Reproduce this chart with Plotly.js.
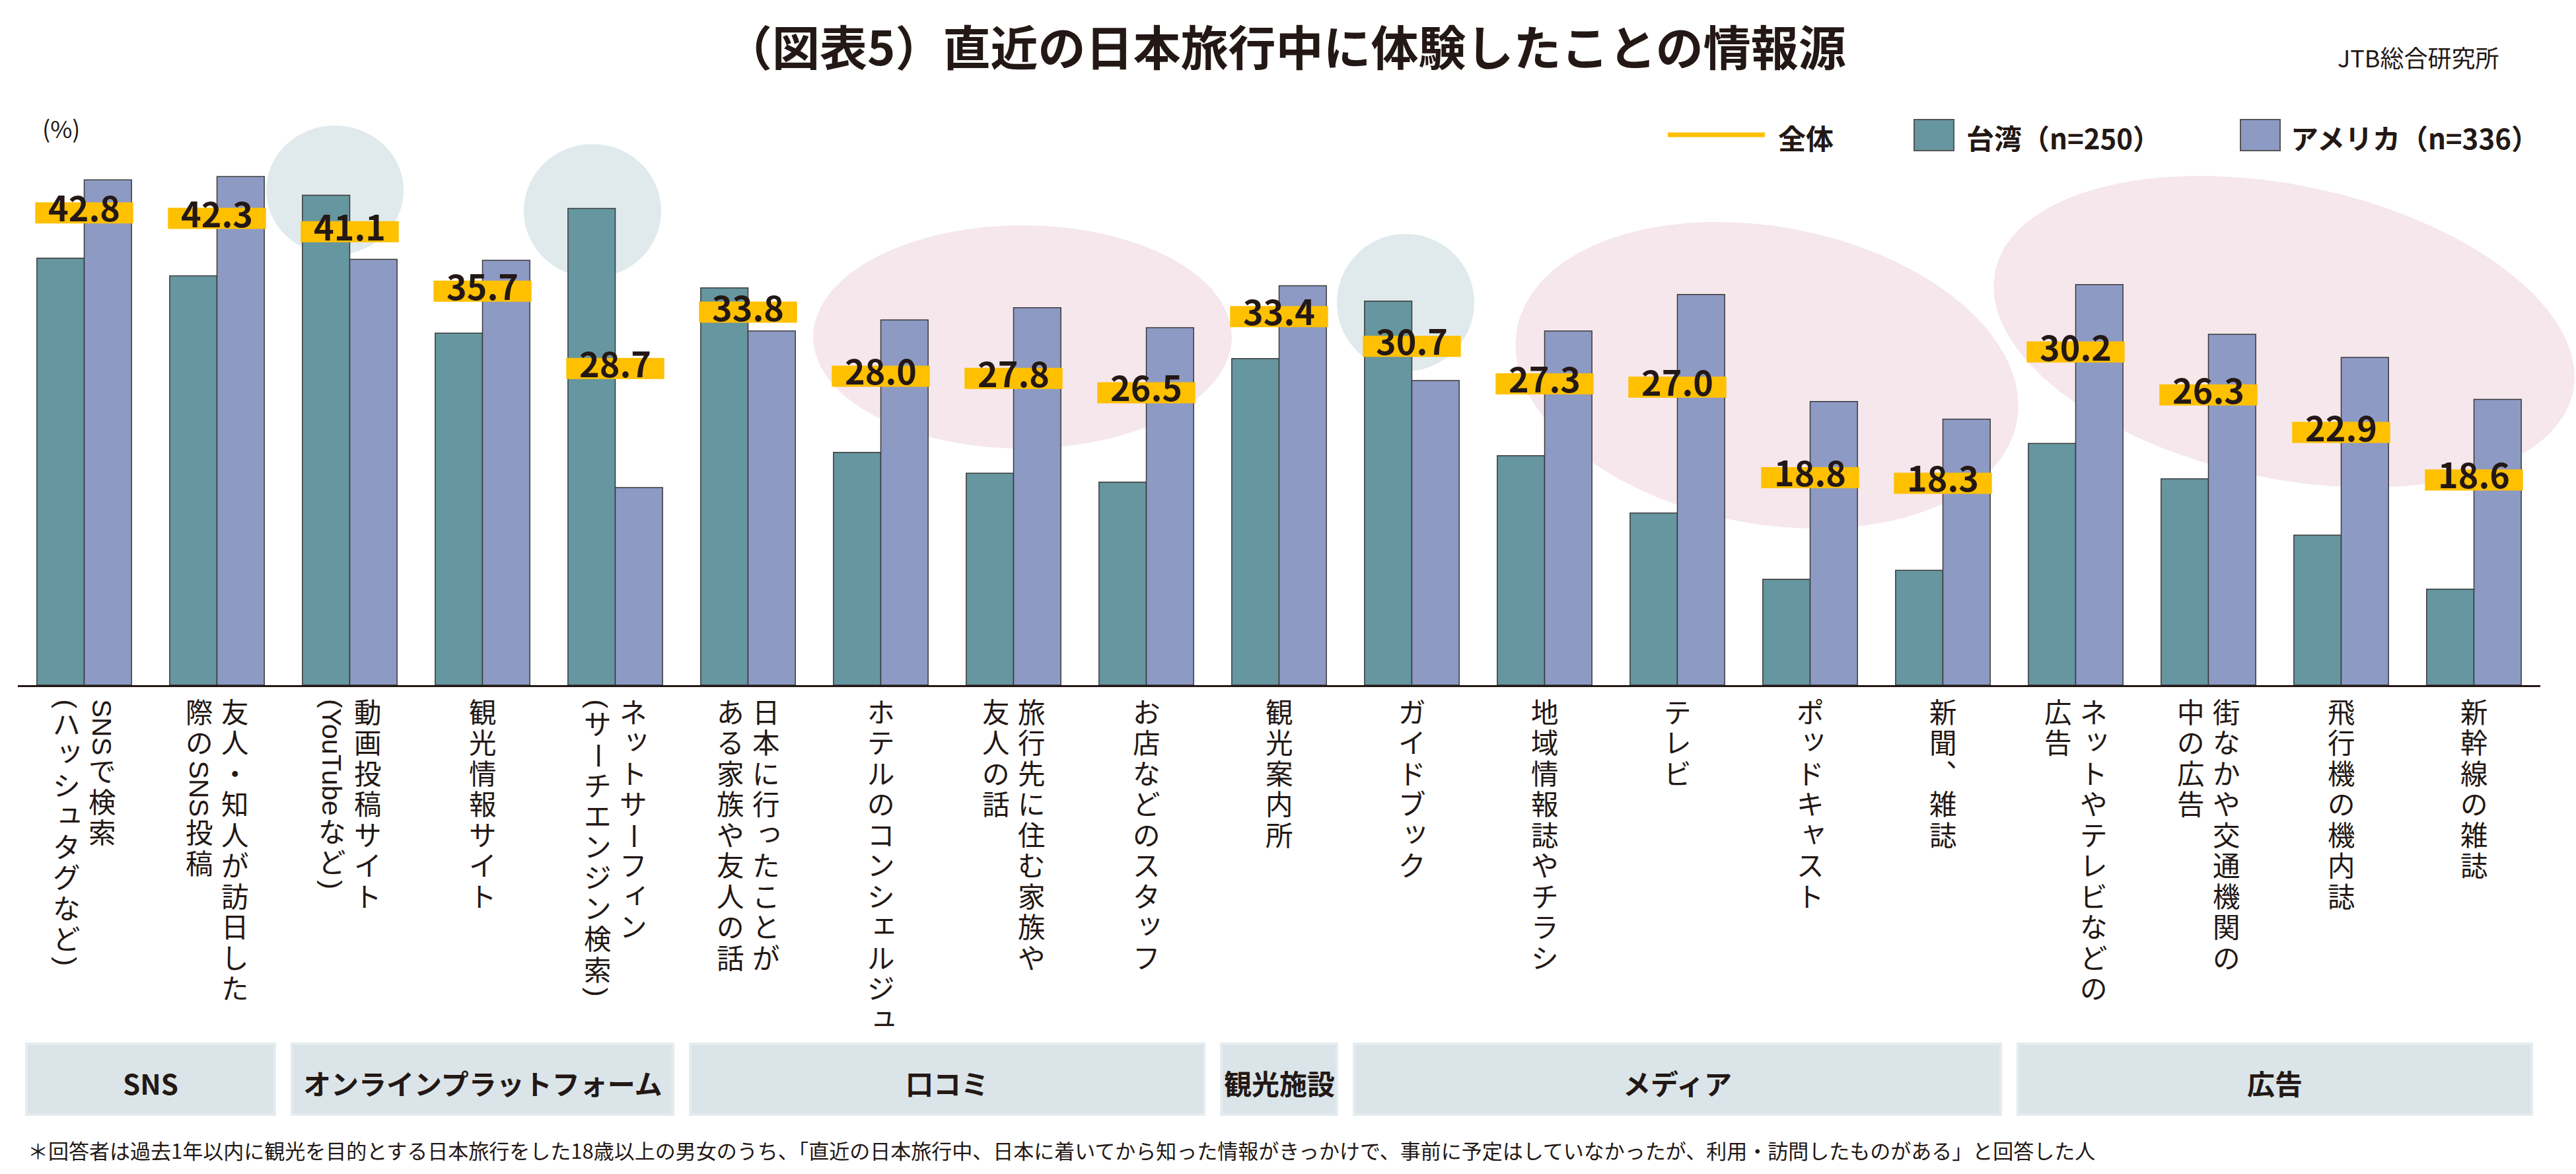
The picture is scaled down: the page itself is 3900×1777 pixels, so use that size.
<!DOCTYPE html>
<html lang="ja">
<head>
<meta charset="utf-8">
<script src="https://cdn.plot.ly/plotly-3.0.1.min.js"></script>
<style>html,body{margin:0;padding:0;background:#fff;}#chart{width:3900px;height:1777px;}</style>
</head>
<body>
<div id="chart"></div>
<script>
// ---------- data ----------
const categoryLabels = [
  "SNSで検索<br>（ハッシュタグなど）",
  "友人・知人が訪日した<br>際のSNS投稿",
  "動画投稿サイト<br>（YouTubeなど）",
  "観光情報サイト",
  "ネットサーフィン<br>（サーチエンジン検索）",
  "日本に行ったことが<br>ある家族や友人の話",
  "ホテルのコンシェルジュ",
  "旅行先に住む家族や<br>友人の話",
  "お店などのスタッフ",
  "観光案内所",
  "ガイドブック",
  "地域情報誌やチラシ",
  "テレビ",
  "ポッドキャスト",
  "新聞、雑誌",
  "ネットやテレビなどの<br>広告",
  "街なかや交通機関の<br>中の広告",
  "飛行機の機内誌",
  "新幹線の雑誌"
];
const taiwan  = [38.7, 37.1, 44.4, 31.9, 43.2, 36.0, 21.1, 19.2, 18.4, 29.6, 34.8, 20.8, 15.6, 9.6, 10.4, 21.9, 18.7, 13.6, 8.7];
const america = [45.8, 46.1, 38.6, 38.5, 17.9, 32.1, 33.1, 34.2, 32.4, 36.2, 27.6, 32.1, 35.4, 25.7, 24.1, 36.3, 31.8, 29.7, 25.9];
const overall = [42.8, 42.3, 41.1, 35.7, 28.7, 33.8, 28.0, 27.8, 26.5, 33.4, 30.7, 27.3, 27.0, 18.8, 18.3, 30.2, 26.3, 22.9, 18.6];
const seriesNames = ["全体", "台湾（n=250）", "アメリカ（n=336）"];
const groupNames = ["SNS", "オンラインプラットフォーム", "口コミ", "観光施設", "メディア", "広告"];
const groupSizes = [2, 3, 4, 1, 5, 4];
const titleText = "（図表5）直近の日本旅行中に体験したことの情報源";
const sourceText = "JTB総合研究所";
const unitText = "(%)";
const noteText = "＊回答者は過去1年以内に観光を目的とする日本旅行をした18歳以上の男女のうち、「直近の日本旅行中、日本に着いてから知った情報がきっかけで、事前に予定はしていなかったが、利用・訪問したものがある」と回答した人";

// ---------- styling / geometry ----------
const FONT = '"Noto Sans CJK JP", "Noto Sans", sans-serif';
const LABEL_FONT = '"Liberation Sans", "Noto Sans CJK JP", sans-serif';
const INK = '#231815';
const C_TW = '#6696a0', C_US = '#8d9ac4', C_Y = '#ffc000';
const C_BLUE = '#e0eaed', C_PINK = '#f5e7ec', C_BOX = '#dbe5e9';
const L = 27, W = 3819, T = 202, H = 835;
const px2x = p => (p - L) / W;
const py2y = p => (T + H - p) / H;

const cats = categoryLabels.map(s => s.replace(/<br>/g, ''));

const traces = [
  {type:'bar', x:cats, y:taiwan, name:seriesNames[1], marker:{color:C_TW, line:{color:'#3a3a3a', width:1.5}}},
  {type:'bar', x:cats, y:america, name:seriesNames[2], marker:{color:C_US, line:{color:'#3a3a3a', width:1.5}}},
  {type:'scatter', mode:'markers+text', x:cats, y:overall, name:seriesNames[0],
   text: overall.map(v => v.toFixed(1)), textposition:'middle center',
   textfont:{family:FONT, size:52, color:INK, weight:700},
   marker:{symbol:'line-ew', size:106, color:C_Y, line:{color:C_Y, width:32}},
   cliponaxis:false}
];

const shapes = [];
function ellipsePath(cx, cy, a, b, deg) {
  const th = deg * Math.PI / 180; let d = '';
  for (let k = 0; k <= 72; k++) {
    const t = k / 72 * 2 * Math.PI;
    const x = cx + a*Math.cos(t)*Math.cos(th) - b*Math.sin(t)*Math.sin(th);
    const y = cy + a*Math.cos(t)*Math.sin(th) + b*Math.sin(t)*Math.cos(th);
    d += (k ? 'L' : 'M') + px2x(x).toFixed(5) + ',' + py2y(y).toFixed(5);
  }
  return d + 'Z';
}
const ell = [
  [507, 288, 104, 98, 0, C_BLUE],
  [897, 319, 104, 101, 0, C_BLUE],
  [1548, 510, 317, 169, 0, C_PINK],
  [2128, 458, 104, 104, 0, C_BLUE],
  [2675, 568, 385, 225, 10.5, C_PINK],
  [3458, 502, 447, 222, 11.8, C_PINK]
];
ell.forEach(e => shapes.push({type:'path', xref:'paper', yref:'paper', layer:'below',
  path: ellipsePath(e[0], e[1], e[2], e[3], e[4]), fillcolor:e[5], line:{width:0}}));

// group boxes
const annotations = [];
let start = 0;
groupSizes.forEach((n, gi) => {
  const x0 = start - 0.5 + 0.065, x1 = start + n - 1 + 0.5 - 0.065;
  shapes.push({type:'rect', xref:'x', yref:'paper', x0:x0, x1:x1, y0:py2y(1687), y1:py2y(1580),
    fillcolor:C_BOX, line:{color:'#e4ecef', width:4}, layer:'above'});
  annotations.push({xref:'x', yref:'paper', x:(x0 + x1)/2, y:py2y(1638), text:groupNames[gi],
    showarrow:false, xanchor:'center', yanchor:'middle', font:{family:FONT, size:42, color:INK, weight:700}});
  start += n;
});

// manual legend
shapes.push({type:'line', xref:'paper', yref:'paper', x0:px2x(2525), x1:px2x(2672), y0:py2y(204), y1:py2y(204), line:{color:C_Y, width:7}});
shapes.push({type:'rect', xref:'paper', yref:'paper', x0:px2x(2898), x1:px2x(2958), y0:py2y(228), y1:py2y(181), fillcolor:C_TW, line:{color:'#555', width:2}});
shapes.push({type:'rect', xref:'paper', yref:'paper', x0:px2x(3392), x1:px2x(3452), y0:py2y(228), y1:py2y(181), fillcolor:C_US, line:{color:'#555', width:2}});
[[2690, seriesNames[0]], [2975, seriesNames[1]], [3466, seriesNames[2]]].forEach(p => {
  annotations.push({xref:'paper', yref:'paper', x:px2x(p[0]), y:py2y(207), text:p[1], showarrow:false,
    xanchor:'left', yanchor:'middle', font:{family:FONT, size:42, color:INK, weight:700}});
});

// other texts
annotations.push({xref:'paper', yref:'paper', x:px2x(3537), y:py2y(86), text:sourceText, showarrow:false,
  xanchor:'left', yanchor:'middle', font:{family:FONT, size:36, color:INK}});
annotations.push({xref:'paper', yref:'paper', x:px2x(93), y:py2y(193), text:unitText, showarrow:false,
  xanchor:'center', yanchor:'middle', font:{family:FONT, size:36, color:INK}});
annotations.push({xref:'paper', yref:'paper', x:px2x(40), y:py2y(1740), text:noteText, showarrow:false,
  xanchor:'left', yanchor:'middle', font:{family:FONT, size:31, color:INK}});

// ---------- vertical category labels (tategaki): one character per cell ----------
const FS = 41.5, PITCH = 46.5, COLGAP = 54, TOP = 1056;
const cv = document.createElement('canvas').getContext('2d');
cv.font = FS + 'px "Liberation Sans"';
const isLatin = c => /[A-Za-z0-9()（）]/.test(c);
const SMALL = 'ぁぃぅぇぉっゃゅょァィゥェォッャュョ';
categoryLabels.forEach((lab, i) => {
  const lines = lab.split('<br>');
  lines.forEach((line, k) => {
    const xs = (lines.length - 1) / 2 * COLGAP - k * COLGAP;
    let y = TOP;
    const chars = Array.from(line);
    let j = 0;
    while (j < chars.length) {
      if (isLatin(chars[j])) {
        let run = '';
        while (j < chars.length && isLatin(chars[j])) { run += chars[j].replace('（', '(').replace('）', ')'); j++; }
        const w = cv.measureText(run).width + 4;
        annotations.push({xref:'x', x:i, xshift:xs, yref:'paper', y:py2y(y + w/2), text:run, textangle:90,
          showarrow:false, xanchor:'center', yanchor:'middle', font:{family:LABEL_FONT, size:FS, color:INK}});
        y += w;
      } else {
        const c = chars[j] === '、' ? '︑' : chars[j];
        const small = SMALL.indexOf(c) >= 0;
        annotations.push({xref:'x', x:i, xshift:xs + (small ? 5 : 0), yshift: small ? 6 : 0,
          yref:'paper', y:py2y(y + PITCH/2), text:c, textangle: c === 'ー' ? 90 : 0,
          showarrow:false, xanchor:'center', yanchor:'middle', font:{family:LABEL_FONT, size:FS, color:INK}});
        y += PITCH; j++;
      }
    }
  });
});

const layout = {
  width:3900, height:1777,
  margin:{l:L, r:3900 - L - W, t:T, b:1777 - T - H},
  paper_bgcolor:'#fff', plot_bgcolor:'rgba(0,0,0,0)',
  title:{text:titleText, x:1946/3900, xref:'container', y:1 - 74/1777, yref:'container',
    xanchor:'center', yanchor:'middle', font:{family:FONT, size:72, color:INK, weight:700}},
  barmode:'group', bargap:0.287, bargroupgap:0,
  showlegend:false,
  xaxis:{type:'category', range:[-0.5, 18.5], showticklabels:false, ticks:'', showgrid:false,
    showline:true, linecolor:INK, linewidth:3, zeroline:false, fixedrange:true},
  yaxis:{range:[0, 50], visible:false, showgrid:false, zeroline:false, fixedrange:true},
  shapes:shapes, annotations:annotations,
  font:{family:FONT, color:INK}
};
Plotly.newPlot('chart', traces, layout, {staticPlot:true, displayModeBar:false});
</script>
</body>
</html>
